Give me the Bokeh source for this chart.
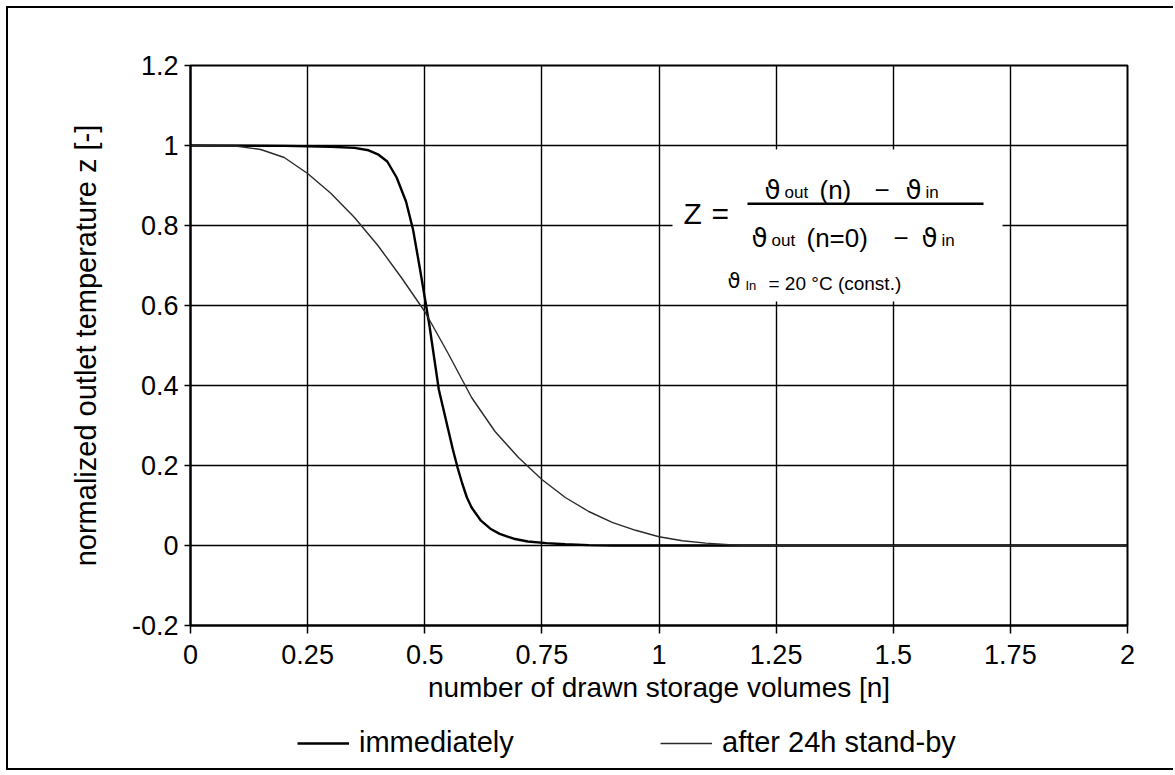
from bokeh.plotting import figure
from bokeh.layouts import column
from bokeh.models import FixedTicker, Label, BoxAnnotation, Legend, LegendItem
from bokeh.embed import file_html
from bokeh.resources import INLINE

# ---- data ----
n_immediate = [0.0, 0.2, 0.3, 0.35, 0.38, 0.40, 0.42, 0.44, 0.46, 0.475, 0.49, 0.50,
               0.51, 0.52, 0.53, 0.54, 0.55, 0.56, 0.57, 0.58, 0.59, 0.60, 0.62,
               0.64, 0.66, 0.69, 0.72, 0.76, 0.80, 0.85, 0.90, 1.25, 1.5, 1.75, 2.0]
z_immediate = [1.0, 0.999, 0.997, 0.994, 0.988, 0.978, 0.96, 0.92, 0.86, 0.79, 0.69, 0.62,
               0.55, 0.47, 0.39, 0.34, 0.29, 0.24, 0.195, 0.155, 0.12, 0.095, 0.062,
               0.042, 0.029, 0.017, 0.010, 0.006, 0.003, 0.001, 0.0, 0.0, 0.0, 0.0, 0.0]

n_standby = [0.0, 0.1, 0.15, 0.2, 0.25, 0.30, 0.35, 0.40, 0.45, 0.50, 0.55, 0.60,
             0.65, 0.70, 0.75, 0.80, 0.85, 0.90, 0.95, 1.0, 1.05, 1.1, 1.15, 1.2,
             1.5, 1.75, 2.0]
z_standby = [1.0, 0.998, 0.99, 0.97, 0.93, 0.88, 0.82, 0.75, 0.67, 0.585, 0.48, 0.37,
             0.285, 0.22, 0.165, 0.12, 0.085, 0.058, 0.038, 0.022, 0.012, 0.006, 0.002, 0.0,
             0.0, 0.0, 0.0]

x_ticks = [0, 0.25, 0.5, 0.75, 1, 1.25, 1.5, 1.75, 2]
x_tick_labels = ["0", "0.25", "0.5", "0.75", "1", "1.25", "1.5", "1.75", "2"]
y_ticks = [-0.2, 0, 0.2, 0.4, 0.6, 0.8, 1, 1.2]
y_tick_labels = ["-0.2", "0", "0.2", "0.4", "0.6", "0.8", "1", "1.2"]
series_names = ["immediately", "after 24h stand-by"]
x_label = "number of drawn storage volumes [n]"
y_label = "normalized outlet temperature z [-]"

FONT = "Liberation Sans"
W = 1165
HP, HQ = 710, 50
IMM_STYLE = dict(line_color="black", line_width=2.4)
SB_STYLE = dict(line_color="#2a2a2a", line_width=1.4)

p = figure(width=W, height=HP, x_range=(0, 2), y_range=(-0.2, 1.2),
           output_backend="svg", toolbar_location=None,
           min_border_left=182, min_border_right=46,
           min_border_top=57, min_border_bottom=HP - 617)
p.background_fill_color = "white"
p.border_fill_color = "white"
p.outline_line_color = "black"
p.outline_line_width = 2

# axes
p.xaxis.ticker = FixedTicker(ticks=x_ticks)
p.yaxis.ticker = FixedTicker(ticks=y_ticks)
p.xaxis.major_label_overrides = {t: s for t, s in zip(x_ticks, x_tick_labels)}
p.yaxis.major_label_overrides = {t: s for t, s in zip(y_ticks, y_tick_labels)}
p.xgrid.ticker = FixedTicker(ticks=x_ticks)
p.ygrid.ticker = FixedTicker(ticks=y_ticks)
for g in (p.xgrid, p.ygrid):
    g.grid_line_color = "black"
    g.grid_line_width = 1.4
    g.grid_line_alpha = 1.0
for ax in (p.xaxis, p.yaxis):
    ax.axis_line_color = "black"
    ax.axis_line_width = 2
    ax.major_tick_line_color = "black"
    ax.major_tick_line_width = 1.5
    ax.major_tick_in = 0
    ax.minor_tick_line_color = None
    ax.major_label_text_font = FONT
    ax.major_label_text_font_size = "27px"
    ax.major_label_text_color = "black"
    ax.axis_label_text_font = FONT
    ax.axis_label_text_font_style = "normal"
    ax.axis_label_text_color = "black"
p.xaxis.major_tick_out = 8
p.yaxis.major_tick_out = 6
p.xaxis.major_label_standoff = 11
p.yaxis.major_label_standoff = 6
p.xaxis.axis_label = x_label
p.yaxis.axis_label = y_label
p.xaxis.axis_label_text_font_size = "28px"
p.yaxis.axis_label_text_font_size = "29px"
p.xaxis.axis_label_standoff = 5
p.yaxis.axis_label_standoff = 27

# helpers: reference page pixel -> data
def X(px):
    return (px - 190) / 468.5

def Y(py):
    return (545 - py) / 400

# white formula box
p.add_layout(BoxAnnotation(left=X(672), right=X(1002), top=Y(149), bottom=Y(301),
                           fill_color="white", fill_alpha=1.0, line_color=None,
                           level="underlay"))

# curves
r1 = p.line(n_immediate, z_immediate, **IMM_STYLE)
r2 = p.line(n_standby, z_standby, **SB_STYLE)

# formula
def lab(px, py, text, size, font=FONT):
    p.add_layout(Label(x=X(px), y=Y(py), text=text, text_font=font,
                       text_font_size=f"{size}px", text_color="black",
                       text_baseline="alphabetic", text_align="left"))

TH = "DejaVu Sans"
lab(683, 213, "Z", 30)
lab(711, 213, "=", 30)
# numerator
lab(764, 189, "\u03d1", 26, TH)
lab(784, 192, "out", 17)
lab(819, 189, "(n)", 26)
lab(874, 189, "\u2212", 26)
lab(905, 189, "\u03d1", 26, TH)
lab(925, 192, "in", 17)
# fraction bar
p.add_layout(BoxAnnotation(left=X(747), right=X(983), top=Y(202), bottom=Y(204.5),
                           fill_color="black", fill_alpha=1.0, line_color=None))
# denominator
lab(751, 237, "\u03d1", 26, TH)
lab(771, 240, "out", 17)
lab(806, 237, "(n=0)", 26)
lab(893, 237, "\u2212", 26)
lab(921, 237, "\u03d1", 26, TH)
lab(941, 240, "in", 17)
# constant inlet
lab(727, 280, "\u03d1", 21, TH)
lab(745, 285, "In", 13)
lab(768, 283, "= 20 \u00b0C (const.)", 19)

# legend strip (separate small canvas under the chart; its frame is aligned
# with the chart frame by the column layout)
q = figure(width=W, height=HQ, x_range=(0, 2), y_range=(5, 6),
           output_backend="svg", toolbar_location=None,
           x_axis_type=None, y_axis_type=None,
           min_border_left=0, min_border_right=0, min_border_top=0, min_border_bottom=0)
q.outline_line_color = None
q.grid.visible = False
q.background_fill_color = "white"
q.border_fill_color = "white"
# same series, out of this strip's visible y range: only their legend glyphs show
lr1 = q.line(n_immediate, z_immediate, **IMM_STYLE)
lr2 = q.line(n_standby, z_standby, **SB_STYLE)
for rr, name, x0 in ((lr1, series_names[0], 297), (lr2, series_names[1], 660)):
    leg = Legend(items=[LegendItem(label=name, renderers=[rr])],
                 location=(x0 - 190, 9), orientation="horizontal",
                 padding=0, margin=0, border_line_color=None,
                 background_fill_alpha=0.0, glyph_width=52, glyph_height=30,
                 label_standoff=10, label_text_font=FONT,
                 label_text_font_size="29px", label_text_color="black")
    q.add_layout(leg, "center")

layout = column(p, q, spacing=0,
                styles={"margin-left": "6px", "margin-top": "6px",
                        "border-left": "2px solid black", "border-top": "2px solid black",
                        "border-bottom": "2px solid black"})

open("out.html", "w").write(file_html(layout, INLINE))
